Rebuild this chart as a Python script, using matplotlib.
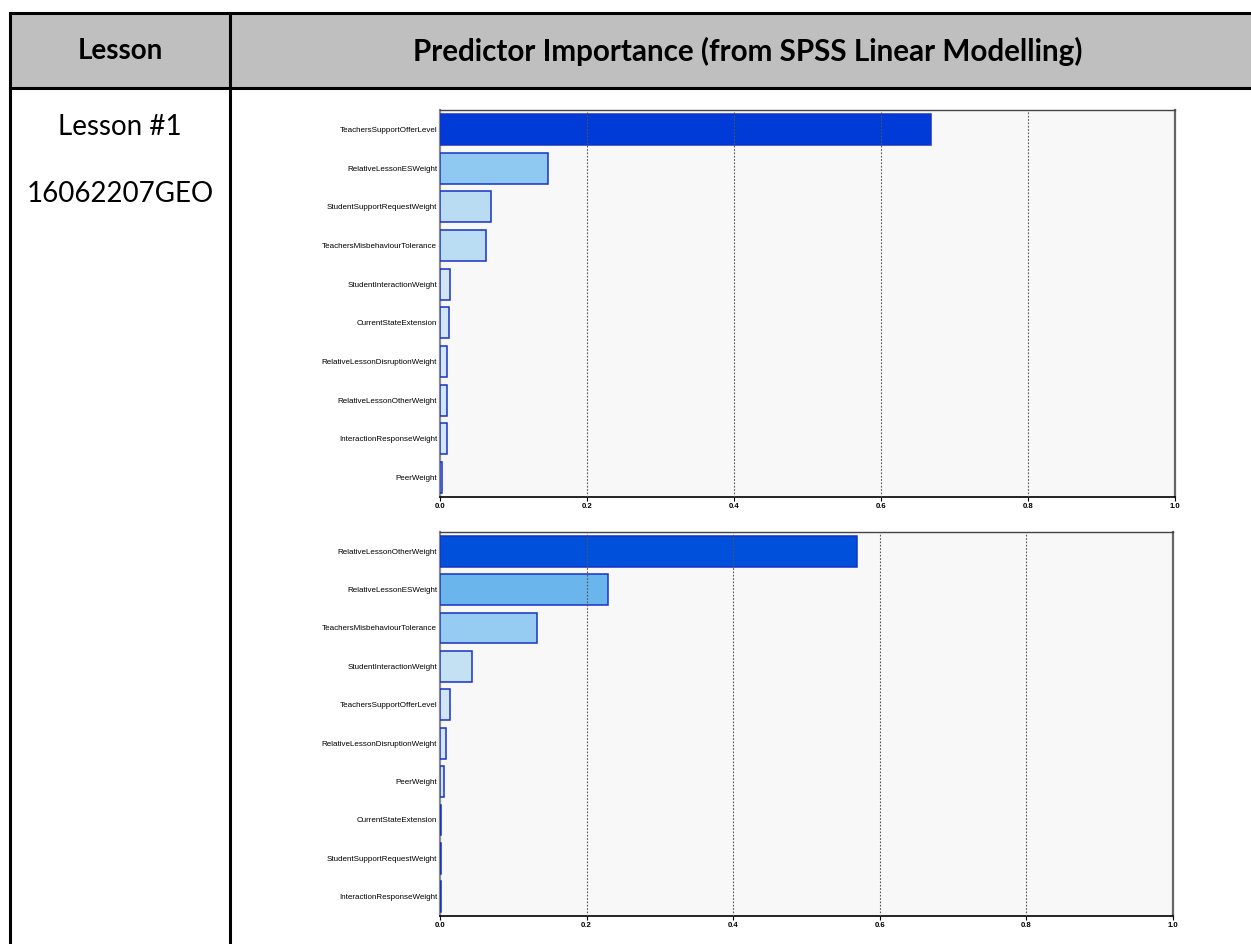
import numpy as np
import matplotlib
matplotlib.use('Agg')
import matplotlib.pyplot as plt
from matplotlib.colors import LinearSegmentedColormap
from matplotlib.lines import Line2D
from matplotlib.patches import Rectangle

# predictor importance, chart 1 (top) and chart 2 (bottom)
labels_1 = ['TeachersSupportOfferLevel', 'RelativeLessonESWeight', 'StudentSupportRequestWeight',
            'TeachersMisbehaviourTolerance', 'StudentInteractionWeight', 'CurrentStateExtension',
            'RelativeLessonDisruptionWeight', 'RelativeLessonOtherWeight',
            'InteractionResponseWeight', 'PeerWeight']
values_1 = [0.668, 0.147, 0.069, 0.063, 0.013, 0.012, 0.010, 0.010, 0.009, 0.003]

labels_2 = ['RelativeLessonOtherWeight', 'RelativeLessonESWeight', 'TeachersMisbehaviourTolerance',
            'StudentInteractionWeight', 'TeachersSupportOfferLevel', 'RelativeLessonDisruptionWeight',
            'PeerWeight', 'CurrentStateExtension', 'StudentSupportRequestWeight',
            'InteractionResponseWeight']
values_2 = [0.569, 0.229, 0.132, 0.043, 0.013, 0.008, 0.006, 0.001, 0.001, 0.001]

x_ticks = [0.0, 0.2, 0.4, 0.6, 0.8, 1.0]

# SPSS-like shading by importance
cmap = LinearSegmentedColormap.from_list('spss', [
    (0.0, '#d6e7f6'), (0.1, '#b8dcf3'), (0.21, '#8ec8f0'), (0.33, '#68b4ec'),
    (0.81, '#0051db'), (1.0, '#0034d6')])

fig = plt.figure(figsize=(12.51, 9.44), dpi=100)
W, H = 1251, 944


def fx(px):
    return px / W


def fy(py):
    return 1 - py / H


# table frame
fig.patches.append(Rectangle((fx(10), fy(88)), fx(1251) - fx(10), fy(13) - fy(88),
                             transform=fig.transFigure, facecolor='#bfbfbf', edgecolor='none', zorder=0))
lw = 2.2
for (x0, y0, x1, y1) in [(10, 13, 1251, 13), (10, 88, 1251, 88), (10, 13, 10, 944), (230, 13, 230, 944)]:
    fig.lines.append(Line2D([fx(x0), fx(x1)], [fy(y0), fy(y1)], transform=fig.transFigure,
                            color='black', lw=lw, solid_capstyle='projecting'))

fig.text(fx(120), fy(51), 'Lesson', ha='center', va='center', fontsize=20, fontweight='bold', family='Lato')
fig.text(fx(748), fy(51), 'Predictor Importance (from SPSS Linear Modelling)', ha='center', va='center',
         fontsize=21.3, fontweight='bold', family='Lato')
fig.text(fx(120), fy(127), 'Lesson #1', ha='center', va='center', fontsize=20, family='Lato')
fig.text(fx(120), fy(194), '16062207GEO', ha='center', va='center', fontsize=20, family='Lato')


def draw(ax, labels, values):
    y = np.arange(len(labels))
    colors = [cmap(v / 0.7) for v in values]
    ax.barh(y, values, height=0.8, color=colors, edgecolor='#1733c4', linewidth=1.1, zorder=2.6)
    ax.set_facecolor('#f8f8f8')
    ax.set_xlim(0, 1)
    ax.set_ylim(len(labels) - 0.5, -0.5)
    ax.set_yticks(y)
    ax.set_yticklabels(labels, fontsize=5.8, family='Liberation Sans')
    ax.tick_params(axis='y', length=0, pad=2)
    ax.set_xticks(x_ticks)
    ax.set_xticklabels(['%.1f' % t for t in x_ticks], fontsize=5.6, family='Liberation Sans',
                       fontweight='bold')
    ax.tick_params(axis='x', length=3, width=0.8, pad=1.5)
    for t in x_ticks[1:-1]:
        ax.axvline(t, color='#555555', lw=0.8, ls=(0, (1.5, 1.5)), zorder=3)
    ax.spines['left'].set_color('#8a8a8a')
    ax.spines['left'].set_linewidth(1.6)
    ax.spines['right'].set_color('#666666')
    ax.spines['right'].set_linewidth(1.6)
    ax.spines['top'].set_color('#444444')
    ax.spines['top'].set_linewidth(1.0)
    ax.spines['bottom'].set_color('black')
    ax.spines['bottom'].set_linewidth(1.2)


ax1 = fig.add_axes([fx(440), fy(497), fx(1175) - fx(440), fy(110) - fy(497)])
draw(ax1, labels_1, values_1)
ax2 = fig.add_axes([fx(440), fy(916), fx(1173) - fx(440), fy(532) - fy(916)])
draw(ax2, labels_2, values_2)

fig.savefig('out.png', dpi=100, facecolor='white')
